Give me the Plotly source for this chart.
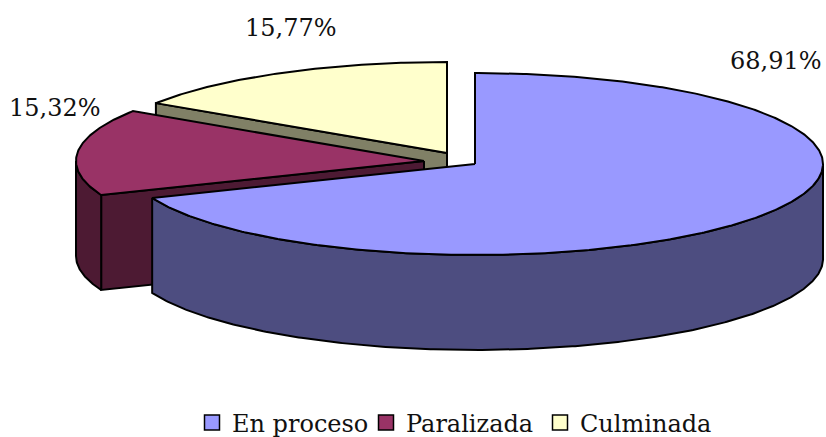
import numpy as np
import plotly.graph_objects as go

categories = ["En proceso", "Paralizada", "Culminada"]
values = [68.91, 15.32, 15.77]
value_labels = ["68,91%", "15,32%", "15,77%"]
top_colors = ["#9999FF", "#993366", "#FFFFCC"]
side_colors = ["#4D4D80", "#4D1A33", "#808066"]

W, H = 826, 437
SPARE = 24  # room below the window so the legend box does not squeeze the plot
RX, RY, DEPTH = 348, 91, 95
CENTERS = [(475, 164), (424, 161), (447, 153)]
LABEL_POS = [(776, 61), (55, 108), (291, 28)]
FONT = "DejaVu Serif"
OUT = dict(color="black", width=2)


def rim(c, a0, a1, dy=0):
    t = np.radians(np.linspace(a0, a1, max(int(abs(a1 - a0) * 2), 2)))
    return c[0] + RX * np.sin(t), c[1] - RY * np.cos(t) + dy


def poly(fig, x, y, color):
    x = np.r_[x, x[0]]
    y = np.r_[y, y[0]]
    fig.add_trace(go.Scatter(x=x, y=y, mode="lines", fill="toself", fillcolor=color,
                             line=OUT, showlegend=False, hoverinfo="skip"))


fig = go.Figure()
edges = np.r_[0, np.cumsum(values)] / sum(values) * 360

# painted back to front: Culminada, Paralizada, En proceso
for i in [2, 1, 0]:
    a0, a1 = edges[i], edges[i + 1]
    c = CENTERS[i]
    # radial cut face at the slice start, when it faces the viewer
    if 180 < a0 < 360:
        ex, ey = rim(c, a0, a0)
        ex, ey = ex[0], ey[0]
        poly(fig, np.array([c[0], ex, ex, c[0]]),
             np.array([c[1], ey, ey + DEPTH, c[1] + DEPTH]), side_colors[i])
    # outer wall: front half of the rim only
    f0, f1 = max(a0, 90), min(a1, 270)
    if f1 > f0:
        tx, ty = rim(c, f0, f1)
        bx, by = rim(c, f1, f0, DEPTH)
        poly(fig, np.r_[tx, bx], np.r_[ty, by], side_colors[i])
    # top face
    rx_, ry_ = rim(c, a0, a1)
    poly(fig, np.r_[c[0], rx_], np.r_[c[1], ry_], top_colors[i])

for name, col in zip(categories, top_colors):
    fig.add_trace(go.Scatter(x=[None], y=[None], mode="markers", name=name,
                             marker=dict(symbol="square", size=15, color=col,
                                         line=dict(color="black", width=1.5))))

for txt, (lx, ly) in zip(value_labels, LABEL_POS):
    fig.add_annotation(x=lx, y=ly, text=txt, showarrow=False,
                       font=dict(family=FONT, size=24, color="#111111"))

fig.update_layout(
    width=W, height=H + SPARE, margin=dict(l=0, r=0, t=0, b=SPARE),
    paper_bgcolor="white", plot_bgcolor="white",
    xaxis=dict(range=[0, W], visible=False),
    yaxis=dict(range=[H, 0], visible=False),
    legend=dict(orientation="h",
                x=192 / W, xanchor="left", y=14 / H, yanchor="middle",
                font=dict(family=FONT, size=24, color="#111111"), itemwidth=30,
                entrywidth=129, entrywidthmode="pixels", tracegroupgap=0),
)
fig.write_html("out.html", config=dict(displayModeBar=False),
               post_script="document.body.style.margin='0';document.documentElement.style.overflow='hidden';")
